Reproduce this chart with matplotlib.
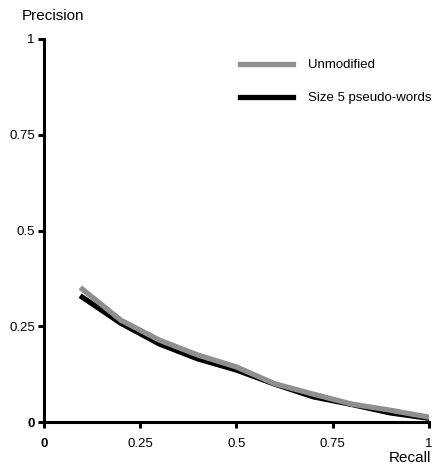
import numpy as np
import matplotlib.pyplot as plt

plt.rcParams['font.family'] = ['Liberation Sans', 'DejaVu Sans']

recall = [0.1, 0.2, 0.3, 0.4, 0.5, 0.6, 0.7, 0.8, 0.9, 1.0]
unmodified = [0.347, 0.266, 0.214, 0.175, 0.144, 0.100, 0.073, 0.047, 0.031, 0.013]
pseudo5 = [0.326, 0.258, 0.204, 0.165, 0.136, 0.099, 0.066, 0.046, 0.024, 0.010]

ticks = [0, 0.25, 0.5, 0.75, 1]
tick_labels = ['0', '0.25', '0.5', '0.75', '1']

fig = plt.figure(figsize=(4.34, 4.69), dpi=100)
ax = fig.add_axes([0.101, 0.100, 0.887, 0.817])

ax.plot(recall, pseudo5, color='black', lw=3.8, label='Size 5 pseudo-words', zorder=2)
ax.plot(recall, unmodified, color='#8f8f8f', lw=3.8, label='Unmodified', zorder=3)

ax.set_xlim(0, 1)
ax.set_ylim(0, 1)
ax.set_xticks(ticks)
ax.set_xticklabels(tick_labels)
ax.set_yticks(ticks)
ax.set_yticklabels(tick_labels)
ax.get_xticklabels()[0].set_fontweight('bold')
ax.get_yticklabels()[0].set_fontweight('bold')

for s in ['top', 'right']:
    ax.spines[s].set_visible(False)
for s in ['left', 'bottom']:
    ax.spines[s].set_linewidth(2.2)
ax.tick_params(direction='out', length=4.5, width=2.2, labelsize=9.5)
ax.tick_params(axis='x', pad=7)
ax.tick_params(axis='y', pad=2)

fig.text(0.051, 0.966, 'Precision', fontsize=11, ha='left', va='center')
fig.text(0.993, 0.0235, 'Recall', fontsize=11, ha='right', va='center')

h, l = ax.get_legend_handles_labels()
ax.legend(h[::-1], l[::-1], loc='upper left', bbox_to_anchor=(0.509, 0.947), frameon=False,
          fontsize=9.5, handlelength=4.0, labelspacing=1.55, handletextpad=1.14, borderpad=0,
          borderaxespad=0)

fig.savefig('out.png', dpi=100)
